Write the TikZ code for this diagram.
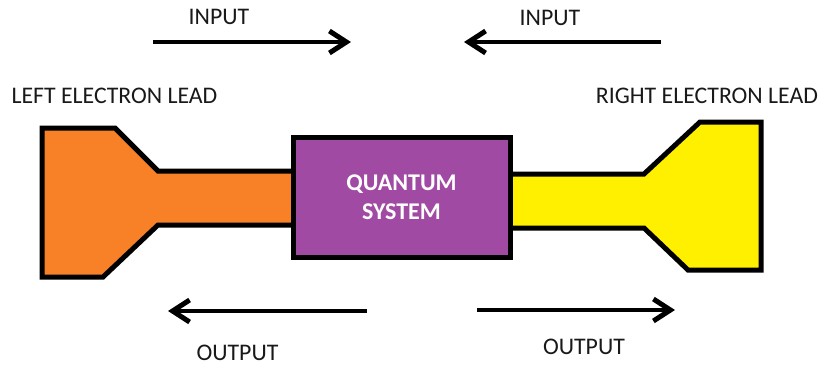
\documentclass[tikz,border=0pt]{standalone}
\usepackage{fontspec}
\setmainfont{Carlito}
\usetikzlibrary{arrows.meta}
\definecolor{leadorange}{RGB}{248,128,38}
\definecolor{qpurple}{RGB}{161,74,163}
\definecolor{leadyellow}{RGB}{255,240,0}
\definecolor{txtgray}{RGB}{25,25,25}
\tikzset{
  leadshape/.style={draw=black, line width=5pt, line join=miter},
  flowarrow/.style={line width=4pt, -{Straight Barb[length=17pt,width=22pt,line width=5pt,line join=miter]}},
  label/.style={anchor=base, inner sep=0pt, text=txtgray, font=\fontsize{23.8}{28}\selectfont},
  qbox/.style={draw=black, line width=5pt, fill=qpurple, minimum width=217pt, minimum height=120pt,
    inner sep=0pt, align=center, text=white, font=\fontsize{24}{29}\bfseries\selectfont}
}
\begin{document}
\begin{tikzpicture}[x=1pt,y=-1pt]
\useasboundingbox (0,0) rectangle (819,365);
% leads
\draw[leadshape, fill=leadorange] (42,128) -- (115,128) -- (158,171) -- (296,171) -- (296,225) -- (158,225) -- (103,277) -- (42,277) -- cycle;
\draw[leadshape, fill=leadyellow] (507,174) -- (644,174) -- (700,122) -- (761,122) -- (761,270) -- (688,270) -- (644,228) -- (507,228) -- cycle;
% quantum system
\node[qbox] (qs) at (401.5,197) {QUANTUM\\SYSTEM};
% labels
\node[label] (ll) at (114.5,103) {LEFT ELECTRON LEAD};
\node[label] (rl) at (707,103) {RIGHT ELECTRON LEAD};
\node[label] (in1) at (219,24) {INPUT};
\node[label] (in2) at (550,25) {INPUT};
\node[label] (out1) at (237.5,360) {OUTPUT};
\node[label] (out2) at (584,354) {OUTPUT};
% arrows
\coordinate (a1s) at (153,42); \coordinate (a1e) at (351,42);
\coordinate (a2s) at (661,42); \coordinate (a2e) at (464,42);
\coordinate (a3s) at (367,311); \coordinate (a3e) at (168,311);
\coordinate (a4s) at (477,310); \coordinate (a4e) at (675,310);
\draw[flowarrow] (a1s) -- (a1e);
\draw[flowarrow] (a2s) -- (a2e);
\draw[flowarrow] (a3s) -- (a3e);
\draw[flowarrow] (a4s) -- (a4e);
\end{tikzpicture}
\end{document}
